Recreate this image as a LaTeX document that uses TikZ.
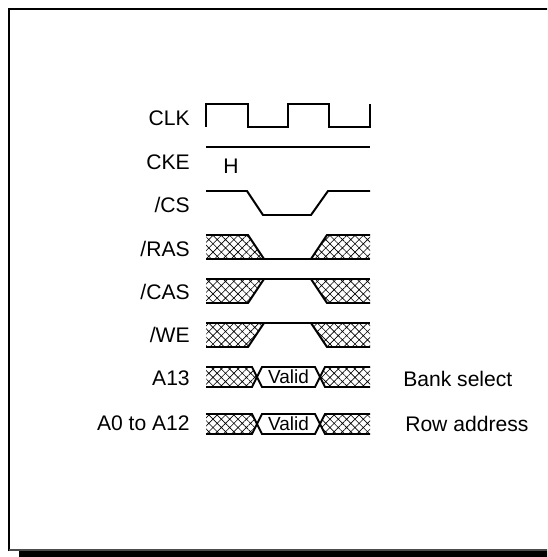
\documentclass[tikz,border=0pt]{standalone}
\usepackage{fontspec}
\setmainfont{Liberation Sans}
\usetikzlibrary{patterns.meta}

\begin{document}
\begin{tikzpicture}[x=0.025cm, y=-0.025cm,
    sig/.style={line width=1.4pt},
    hatched/.style={pattern={Hatch[angle=45,distance=4.2pt,line width=0.45pt]}},
    lbl/.style={anchor=east, inner sep=0pt, font=\fontsize{15}{17}\selectfont},
    note/.style={anchor=west, inner sep=0pt, font=\fontsize{15}{17}\selectfont}]
    \useasboundingbox (0,0) rectangle (547,557);
    \clip (0,0) rectangle (547,557);
    % frame with shadow
    \fill (19,551) rectangle (580,580);
    \draw[line width=1.8pt] (9,551) -- (9,9) -- (580,9);
    \draw[line width=0.8pt, black!70] (9,550) -- (580,550);
    % signal names
    \node[lbl] (clk) at (190,118) {CLK};
    \node[lbl] (cke) at (190,162) {CKE};
    \node[lbl] (cs) at (190,205) {/CS};
    \node[lbl] (ras) at (190,249) {/RAS};
    \node[lbl] (cas) at (190,292) {/CAS};
    \node[lbl] (we) at (190,335) {/WE};
    \node[lbl] (a13) at (190,378) {A13};
    \node[lbl] (addr) at (190,423) {A0 to A12};
    \node[note] (bank) at (403,379) {Bank select};
    \node[note] (row) at (405,424) {Row address};
    % CLK and CKE
    \draw[sig] (206,127) -- (206,104) -- (248,104) -- (248,127) -- (288,127) -- (288,104)
        -- (329,104) -- (329,127) -- (370,127) -- (370,104);
    \draw[sig] (206,147) -- (370,147);
    \node[inner sep=0pt, font=\fontsize{15}{17}\selectfont] (high) at (231,166) {H};
    % /CS
    \draw[sig] (206,191) -- (247,191) -- (263,215) -- (311,215) -- (328,191) -- (370,191);
    % /RAS
    \path[hatched] (206,235) -- (248,235) -- (264,259) -- (206,259) -- cycle;
    \path[hatched] (311,259) -- (327,235) -- (370,235) -- (370,259) -- cycle;
    \draw[sig] (206,235) -- (248,235) -- (264,259);
    \draw[sig] (311,259) -- (327,235) -- (370,235);
    \draw[sig] (206,259) -- (370,259);
    % /CAS and /WE
    \foreach \t in {279,323} {
        \path[hatched] (206,\t) -- (264,\t) -- (248,\t+24) -- (206,\t+24) -- cycle;
        \path[hatched] (311,\t) -- (370,\t) -- (370,\t+24) -- (327,\t+24) -- cycle;
        \draw[sig] (206,\t) -- (370,\t);
        \draw[sig] (206,\t+24) -- (248,\t+24) -- (264,\t);
        \draw[sig] (311,\t) -- (327,\t+24) -- (370,\t+24);
    }
    % address buses
    \foreach \m/\n in {377/1,424/2} {
        \path[hatched] (206,\m-10) -- (252,\m-10) -- (257,\m) -- (252,\m+10) -- (206,\m+10) -- cycle;
        \path[hatched] (370,\m-10) -- (325,\m-10) -- (320,\m) -- (325,\m+10) -- (370,\m+10) -- cycle;
        \draw[sig] (206,\m-10) -- (252,\m-10) -- (262,\m+10) -- (315,\m+10) -- (325,\m-10) -- (370,\m-10);
        \draw[sig] (206,\m+10) -- (252,\m+10) -- (262,\m-10) -- (315,\m-10) -- (325,\m+10) -- (370,\m+10);
        \node[inner sep=0pt, font=\fontsize{13.5}{15}\selectfont] (valid\n) at (288.5,\m) {Valid};
    }
\end{tikzpicture}
\end{document}
